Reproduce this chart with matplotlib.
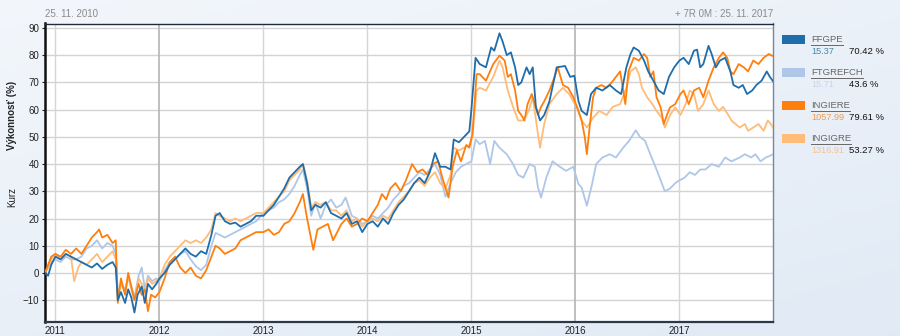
import matplotlib
matplotlib.use("Agg")
import matplotlib.pyplot as plt
import numpy as np
from matplotlib.lines import Line2D
from matplotlib.patches import Rectangle

plt.rcParams['font.family'] = ['Liberation Sans', 'DejaVu Sans']

# --- data (decimal years, performance in %) ---
ffgpe_t = [2010.90, 2010.93, 2010.96, 2011.00, 2011.05, 2011.10, 2011.15, 2011.20, 2011.25, 2011.30,
           2011.35, 2011.40, 2011.45, 2011.50, 2011.55, 2011.58, 2011.60, 2011.63, 2011.67, 2011.70,
           2011.73, 2011.76, 2011.79, 2011.83, 2011.86, 2011.89, 2011.93, 2011.97, 2012.00, 2012.05,
           2012.10, 2012.15, 2012.20, 2012.25, 2012.30, 2012.35, 2012.40, 2012.45, 2012.50, 2012.54,
           2012.58, 2012.63, 2012.68, 2012.73, 2012.78, 2012.83, 2012.88, 2012.93, 2013.00, 2013.05,
           2013.10, 2013.15, 2013.20, 2013.25, 2013.30, 2013.35, 2013.38, 2013.42, 2013.46, 2013.50,
           2013.55, 2013.60, 2013.65, 2013.70, 2013.75, 2013.80, 2013.85, 2013.90, 2013.95, 2014.00,
           2014.05, 2014.10, 2014.15, 2014.20, 2014.25, 2014.30, 2014.35, 2014.40, 2014.45, 2014.50,
           2014.55, 2014.60, 2014.65, 2014.70, 2014.75, 2014.80, 2014.83, 2014.88, 2014.93, 2014.98,
           2015.00, 2015.04, 2015.08, 2015.14, 2015.19, 2015.22, 2015.27, 2015.30, 2015.34, 2015.38,
           2015.42, 2015.45, 2015.48, 2015.53, 2015.56, 2015.59, 2015.62, 2015.66, 2015.70, 2015.75,
           2015.82, 2015.90, 2015.95, 2015.99, 2016.03, 2016.06, 2016.11, 2016.15, 2016.20, 2016.26,
           2016.33, 2016.39, 2016.44, 2016.49, 2016.53, 2016.56, 2016.61, 2016.66, 2016.70, 2016.75,
           2016.80, 2016.85, 2016.90, 2016.95, 2017.00, 2017.04, 2017.09, 2017.14, 2017.17, 2017.20,
           2017.23, 2017.28, 2017.31, 2017.35, 2017.39, 2017.44, 2017.49, 2017.52, 2017.57, 2017.61,
           2017.65, 2017.70, 2017.74, 2017.79, 2017.84, 2017.87, 2017.90]
ffgpe_v = [0, -1, 3, 6, 5, 7, 6, 5, 4, 3,
           2, 3.5, 1.5, 3, 4, 2, -10, -7, -11, -6,
           -9, -14.5, -8, -5, -11, -4, -6, -4, -2, 0,
           3, 5, 7, 9, 7, 6, 8, 7, 14, 21,
           22, 19, 18, 18.5, 17, 18, 19, 21, 21, 23,
           25, 28, 31, 35, 37, 39, 40, 33, 23, 25,
           24, 26, 22, 21, 20, 22, 18, 19, 15, 18,
           19, 17, 20, 18, 22, 25, 27, 30, 33, 35,
           33, 37, 44, 39, 39, 38, 49, 48, 50, 52,
           60, 79, 76.7, 75.5, 82.8, 81.6, 88, 85, 80, 81,
           75.5, 69, 70, 75.5, 73, 75.5, 61, 56, 58, 63,
           75.5, 76, 72, 72.4, 63, 59.5, 58, 65.7, 68, 67,
           69, 67, 65.7, 75.5, 80.4, 82.8, 81.6, 78, 74, 70.6,
           67, 65.7, 72, 75.5, 78, 79, 76.7, 81.6, 82, 75.5,
           76.7, 83.4, 80.4, 75.5, 78, 79, 74, 69, 68, 69,
           65.7, 67, 69, 70.6, 74, 72, 70.42]

ftgrefch_t = [2010.90, 2010.93, 2010.96, 2011.00, 2011.05, 2011.10, 2011.15, 2011.20, 2011.25, 2011.30,
              2011.35, 2011.40, 2011.45, 2011.50, 2011.55, 2011.58, 2011.60, 2011.63, 2011.67, 2011.70,
              2011.73, 2011.76, 2011.80, 2011.83, 2011.86, 2011.89, 2011.93, 2011.97, 2012.00, 2012.05,
              2012.10, 2012.15, 2012.20, 2012.25, 2012.30, 2012.35, 2012.40, 2012.45, 2012.50, 2012.54,
              2012.58, 2012.63, 2012.68, 2012.73, 2012.78, 2012.83, 2012.88, 2012.93, 2013.00, 2013.05,
              2013.10, 2013.15, 2013.20, 2013.25, 2013.30, 2013.35, 2013.38, 2013.42, 2013.46, 2013.50,
              2013.55, 2013.60, 2013.65, 2013.70, 2013.75, 2013.79, 2013.85, 2013.90, 2013.95, 2014.00,
              2014.05, 2014.10, 2014.15, 2014.20, 2014.25, 2014.30, 2014.35, 2014.40, 2014.45, 2014.50,
              2014.55, 2014.60, 2014.65, 2014.70, 2014.75, 2014.80, 2014.85, 2014.90, 2014.95, 2015.00,
              2015.04, 2015.08, 2015.13, 2015.18, 2015.22, 2015.27, 2015.34, 2015.40, 2015.45, 2015.50,
              2015.56, 2015.61, 2015.64, 2015.67, 2015.72, 2015.78, 2015.85, 2015.91, 2015.98, 2016.03,
              2016.06, 2016.11, 2016.16, 2016.20, 2016.26, 2016.33, 2016.39, 2016.46, 2016.52, 2016.58,
              2016.62, 2016.67, 2016.72, 2016.77, 2016.81, 2016.86, 2016.91, 2016.96, 2017.00, 2017.05,
              2017.10, 2017.15, 2017.20, 2017.25, 2017.31, 2017.38, 2017.44, 2017.50, 2017.58, 2017.63,
              2017.69, 2017.73, 2017.78, 2017.83, 2017.87, 2017.90]
ftgrefch_v = [0, 2, 4, 5, 4, 6, 5, 5, 6, 9,
              10, 12, 9, 11, 10, 7, -8, -4, -6, -2,
              -5, -9, -1, 2, -6, -1, -3, -2, -3, 1,
              4, 5, 7, 8, 5, 2.5, 1, 3, 10, 14.7,
              14, 13, 14, 15, 16, 17, 18, 19, 22, 23,
              24, 26, 27, 29, 32, 36, 38, 31, 21, 26,
              20, 25, 27, 24, 25, 27.7, 21, 20, 18, 19,
              21, 20, 22, 24, 27, 29, 32, 33, 35, 37,
              36, 38, 40, 36, 28, 33, 37, 39, 40, 41,
              49, 47.3, 48.5, 40, 48.5, 46, 43.6, 40, 36, 35,
              40, 39, 31.4, 27.7, 35, 41, 39, 37.5, 39, 32.6,
              31.4, 24.7, 32.6, 40, 42.4, 43.6, 42.4, 46, 48.7, 52.4,
              50, 48.5, 43.6, 39, 35, 30, 31, 33, 34, 35,
              37, 36, 38, 38, 40, 39, 42.4, 41, 42.4, 43.6,
              42.4, 43.6, 41, 42.4, 43, 43.6]

ingiere_t = [2010.90, 2010.93, 2010.96, 2011.00, 2011.05, 2011.10, 2011.15, 2011.20, 2011.25, 2011.30,
             2011.35, 2011.40, 2011.42, 2011.45, 2011.50, 2011.55, 2011.58, 2011.60, 2011.63, 2011.67,
             2011.70, 2011.73, 2011.76, 2011.80, 2011.83, 2011.86, 2011.89, 2011.92, 2011.96, 2012.00,
             2012.05, 2012.10, 2012.15, 2012.20, 2012.25, 2012.30, 2012.35, 2012.40, 2012.45, 2012.50,
             2012.54, 2012.58, 2012.63, 2012.68, 2012.73, 2012.78, 2012.83, 2012.88, 2012.93, 2013.00,
             2013.05, 2013.10, 2013.15, 2013.20, 2013.25, 2013.30, 2013.35, 2013.38, 2013.42, 2013.48,
             2013.52, 2013.57, 2013.62, 2013.67, 2013.71, 2013.75, 2013.80, 2013.85, 2013.90, 2013.95,
             2014.00, 2014.05, 2014.10, 2014.14, 2014.18, 2014.22, 2014.27, 2014.32, 2014.37, 2014.43,
             2014.48, 2014.53, 2014.58, 2014.63, 2014.68, 2014.72, 2014.78, 2014.82, 2014.86, 2014.90,
             2014.95, 2014.98, 2015.01, 2015.05, 2015.08, 2015.14, 2015.21, 2015.27, 2015.32, 2015.35,
             2015.38, 2015.42, 2015.45, 2015.48, 2015.51, 2015.54, 2015.58, 2015.61, 2015.64, 2015.67,
             2015.70, 2015.75, 2015.80, 2015.83, 2015.88, 2015.93, 2015.98, 2016.03, 2016.06, 2016.09,
             2016.11, 2016.14, 2016.17, 2016.20, 2016.25, 2016.30, 2016.35, 2016.39, 2016.43, 2016.46,
             2016.48, 2016.51, 2016.56, 2016.61, 2016.66, 2016.69, 2016.72, 2016.75, 2016.78, 2016.82,
             2016.85, 2016.88, 2016.91, 2016.96, 2017.01, 2017.04, 2017.09, 2017.14, 2017.19, 2017.23,
             2017.28, 2017.33, 2017.38, 2017.42, 2017.46, 2017.49, 2017.52, 2017.57, 2017.62, 2017.66,
             2017.71, 2017.76, 2017.81, 2017.86, 2017.90]
ingiere_v = [0, 3, 6, 7, 6, 8.5, 7, 9, 7, 10,
             13, 15, 16, 13, 14, 11, 12, -11, -2, -8,
             0, -5, -10, -4, -8, -6, -14, -8, -9, -7,
             -2, 4, 6, 2, 0, 2, -1, -2, 1, 6,
             10, 9, 7, 8, 9, 12, 13, 14, 15, 15,
             16, 14, 15, 18, 19, 22, 26, 29, 20, 8.5,
             16, 17, 18, 12, 15, 18, 20, 17, 18, 20,
             19, 22, 25, 29, 27, 31, 33, 30, 34, 40,
             37, 38, 36, 40, 41, 35, 27.7, 39, 45, 41,
             47, 46, 51, 73, 73, 70.6, 76.7, 79.8, 78, 72,
             73, 67, 59.5, 58, 56, 62, 65.7, 62, 58, 61,
             63, 67, 72, 75.5, 69, 68, 64.5, 59.5, 56, 50,
             43.6, 54.7, 64.5, 68, 69, 68, 70, 72, 74, 67,
             62, 74, 79, 78, 80.4, 79, 72, 74, 64.5, 60.8,
             54.7, 58, 60.8, 62, 65.7, 67, 62, 67, 68, 64.5,
             70.6, 75.5, 79, 81, 79, 74, 73, 76.7, 75.5, 74,
             78, 76.7, 79, 80.4, 79.61]

ingigre_t = [2010.90, 2010.93, 2010.96, 2011.00, 2011.05, 2011.10, 2011.15, 2011.18, 2011.22, 2011.25,
             2011.30, 2011.35, 2011.40, 2011.45, 2011.50, 2011.55, 2011.58, 2011.60, 2011.63, 2011.67,
             2011.70, 2011.73, 2011.76, 2011.80, 2011.83, 2011.86, 2011.89, 2011.93, 2011.97, 2012.00,
             2012.05, 2012.10, 2012.15, 2012.20, 2012.25, 2012.30, 2012.35, 2012.40, 2012.45, 2012.50,
             2012.54, 2012.58, 2012.63, 2012.68, 2012.73, 2012.78, 2012.83, 2012.88, 2012.93, 2013.00,
             2013.05, 2013.10, 2013.15, 2013.20, 2013.25, 2013.30, 2013.35, 2013.38, 2013.42, 2013.46,
             2013.50, 2013.55, 2013.60, 2013.65, 2013.70, 2013.75, 2013.80, 2013.85, 2013.90, 2013.95,
             2014.00, 2014.05, 2014.10, 2014.15, 2014.20, 2014.25, 2014.30, 2014.35, 2014.40, 2014.45,
             2014.50, 2014.55, 2014.60, 2014.65, 2014.70, 2014.75, 2014.80, 2014.83, 2014.88, 2014.93,
             2014.98, 2015.01, 2015.05, 2015.08, 2015.14, 2015.21, 2015.27, 2015.30, 2015.35, 2015.40,
             2015.45, 2015.50, 2015.55, 2015.59, 2015.64, 2015.66, 2015.70, 2015.75, 2015.82, 2015.88,
             2015.94, 2016.01, 2016.06, 2016.11, 2016.17, 2016.23, 2016.30, 2016.36, 2016.43, 2016.49,
             2016.53, 2016.58, 2016.61, 2016.64, 2016.69, 2016.74, 2016.78, 2016.83, 2016.86, 2016.91,
             2016.96, 2017.01, 2017.06, 2017.10, 2017.14, 2017.18, 2017.23, 2017.28, 2017.33, 2017.38,
             2017.42, 2017.47, 2017.50, 2017.54, 2017.58, 2017.63, 2017.66, 2017.71, 2017.76, 2017.81,
             2017.85, 2017.88, 2017.90]
ingigre_v = [0, 2, 5, 7, 5, 7, 6, -3, 2, 4,
             3, 5, 7, 4, 6, 8, 5, -9, -4, -7,
             -1, -6, -10, -2, -4, -7, -2, -4, -3, -2,
             3, 6, 8, 10, 12, 11, 12, 11, 13, 16,
             22, 21, 20, 19, 20, 19, 20, 21, 22, 22,
             24, 26, 28, 30, 34, 36, 38, 40, 34, 24,
             26, 25, 26, 23, 23, 21, 23, 19, 20, 17,
             19, 20, 19, 21, 20, 23, 26, 28, 30, 33,
             34, 32, 35, 37, 33, 31, 36, 46, 45, 46,
             47, 50, 67, 68, 67, 72, 78, 75.5, 67, 61,
             56, 56, 59.5, 64.5, 51, 46, 54.7, 62, 65.7, 68,
             65.7, 61, 56, 53.4, 57, 59.5, 58, 61, 62, 68,
             74, 75.5, 73, 68, 64.5, 62, 59.5, 57, 53.4, 58,
             60.8, 58, 62, 67, 65.7, 59.5, 62, 67, 62, 59.5,
             61, 58, 56, 54.7, 53.4, 54.7, 52.2, 53.4, 54.7, 52.2,
             56, 54.7, 53.27]

names = ["FFGPE", "FTGREFCH", "INGIERE", "INGIGRE"]
prices = ["15.37", "15.71", "1057.99", "1316.91"]
perfs = ["70.42 %", "43.6 %", "79.61 %", "53.27 %"]
colors = ["#1f6dab", "#aec7e8", "#ff7f0e", "#ffbb78"]
price_colors = ["#4a87a8", "#c8d7ea", "#f29a55", "#f6c28e"]

year_ticks = [2011, 2012, 2013, 2014, 2015, 2016, 2017]
y_ticks = [-10, 0, 10, 20, 30, 40, 50, 60, 70, 80, 90]

W, H = 900, 336
fig = plt.figure(figsize=(9, 3.36), dpi=100)

# background gradient
bg = fig.add_axes([0, 0, 1, 1], zorder=-10)
gx = np.linspace(0, 1, 200)
gy = np.linspace(0, 1, 80)
X, Y = np.meshgrid(gx, gy)
grad = np.clip(0.35 * (1 - X) + 0.5 * Y, 0, 1)
c0 = np.array([0.882, 0.918, 0.961])
c1 = np.array([0.965, 0.975, 0.99])
img = c0[None, None, :] * (1 - grad[..., None]) + c1[None, None, :] * grad[..., None]
bg.imshow(img, origin="lower", aspect="auto", extent=[0, 1, 0, 1])
bg.axis("off")

ax = fig.add_axes([45 / W, 1 - 322 / H, (773 - 45) / W, (322 - 23.5) / H])
ax.set_facecolor("white")

series = [(ftgrefch_t, ftgrefch_v, 1), (ingigre_t, ingigre_v, 3),
          (ingiere_t, ingiere_v, 2), (ffgpe_t, ffgpe_v, 0)]
for t, v, i in series:
    ax.plot(t, v, color=colors[i], lw=1.3, zorder=3)

ax.set_xlim(2010.9, 2017.9)
ax.set_ylim(-18, 91.6)
ax.set_xticks(year_ticks)
ax.set_xticklabels([str(y) for y in year_ticks])
ax.set_yticks(y_ticks)
ax.tick_params(axis="both", labelsize=7, colors="#222222", length=2, width=0.8, pad=2)
ax.tick_params(axis="x", length=0, pad=3)

for y in y_ticks:
    ax.axhline(y, color="#d3d3d3", lw=1, zorder=1)
for yr in year_ticks:
    c = "#b5b5b5" if yr in (2012, 2016) else "#d5d5d5"
    ax.axvline(yr, color=c, lw=1.2 if yr in (2012, 2016) else 1, zorder=1)

ax.spines["left"].set_color("#111111")
ax.spines["left"].set_linewidth(1.8)
ax.spines["bottom"].set_color("#2a3a4a")
ax.spines["bottom"].set_linewidth(1.6)
ax.spines["top"].set_color("#1c2c3c")
ax.spines["top"].set_linewidth(1.0)
ax.spines["right"].set_color("#7088a4")
ax.spines["right"].set_linewidth(1.0)

# header texts
fig.text(45 / W, 1 - 14 / H, "25. 11. 2010", fontsize=7, color="#8a8a8a", va="center", ha="left")
fig.text(773 / W, 1 - 14 / H, "+ 7R 0M : 25. 11. 2017", fontsize=7, color="#8a8a8a", va="center", ha="right")

# axis titles on the left
fig.text(12 / W, 1 - 115 / H, "Výkonnosť (%)", fontsize=7, fontweight="bold", rotation=90,
         color="#222222", ha="center", va="center")
fig.text(12 / W, 1 - 197 / H, "Kurz", fontsize=7, rotation=90, color="#222222", ha="center", va="center")

# legend on the right
fig.canvas.draw()
renderer = fig.canvas.get_renderer()
for i in range(4):
    top = 35 + 33 * i
    fig.add_artist(Rectangle((782 / W, 1 - (top + 9) / H), 23 / W, 9 / H,
                             facecolor=colors[i], edgecolor="none", transform=fig.transFigure))
    t = fig.text(811 / W, 1 - (top + 4.5) / H, names[i], fontsize=6.8, color="#666666",
                 ha="left", va="center")
    bb = t.get_window_extent(renderer)
    uy = 1 - (top + 10) / H
    fig.add_artist(Line2D([bb.x0 / W, bb.x1 / W], [uy, uy], color="#666666", lw=0.7,
                          transform=fig.transFigure))
    fig.text(811 / W, 1 - (top + 16.5) / H, prices[i], fontsize=6.6, color=price_colors[i],
             ha="left", va="center")
    fig.text(849 / W, 1 - (top + 16.5) / H, perfs[i], fontsize=6.8, color="#111111",
             ha="left", va="center")

fig.savefig("out.png", dpi=100)
